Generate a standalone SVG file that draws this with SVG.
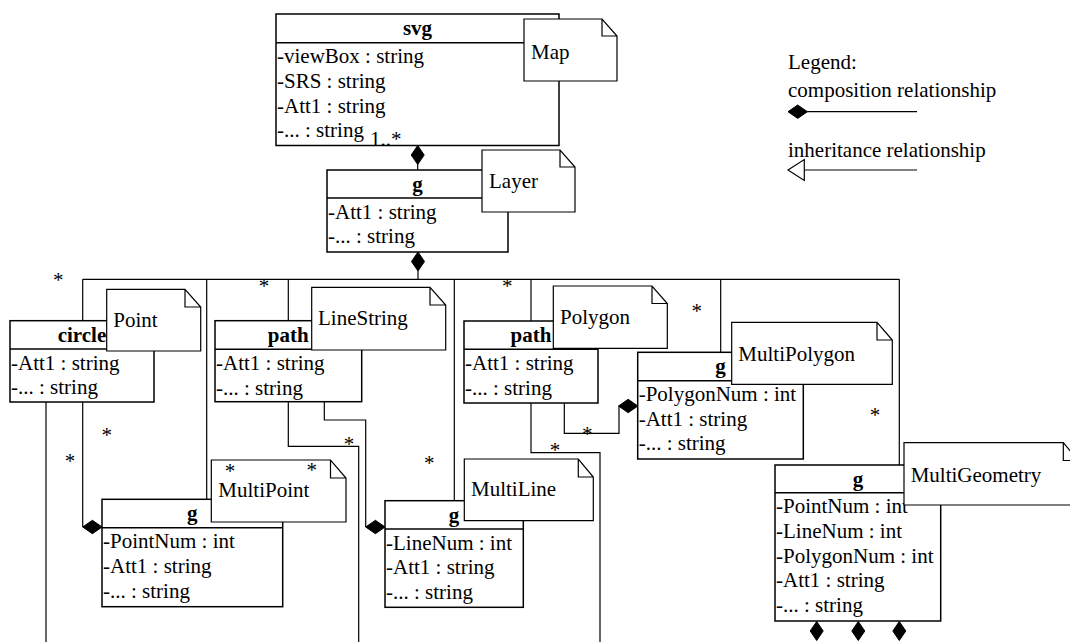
<svg xmlns="http://www.w3.org/2000/svg" width="1070" height="642" viewBox="0 0 1070 642">
<defs>
<style>
.box{fill:#fff;stroke:#000;stroke-width:1.5}
.note{fill:#fff;stroke:#000;stroke-width:1.2}
.ln{fill:none;stroke:#000;stroke-width:1.2}
.dm{fill:#000;stroke:#000;stroke-width:1}
text{font-family:"Liberation Serif","Times New Roman",serif;font-size:21px;fill:#000}
.ttl{font-weight:bold;text-anchor:middle}
.st{text-anchor:middle}
</style>
<path id="dv" d="M0,0 L6.5,9.5 L0,19 L-6.5,9.5 Z"/>
<path id="dh" d="M0,0 L9.7,-6.7 L19.4,0 L9.7,6.7 Z"/>
</defs>
<rect width="1070" height="642" fill="#fff"/>

<g id="connectors" class="ln">
<path d="M417.7,164 V170"/>
<path d="M418,271 V279.3"/>
<path d="M82.7,279.3 H899.3"/>
<path d="M82.7,279.3 V320.7"/>
<path d="M206.7,279.3 V499.3"/>
<path d="M288.3,279.3 V320.7"/>
<path d="M454.3,279.3 V500.7"/>
<path d="M531,279.3 V321"/>
<path d="M720.7,279.3 V352.3"/>
<path d="M899.3,279.3 V465"/>
<path d="M46,402 V642"/>
<path d="M82.7,402 V527"/>
<path d="M288.3,402 V446.3 H358.7 V642"/>
<path d="M324.3,402 V420 H365.7 V527"/>
<path d="M531,403 V452.7 H600 V642"/>
<path d="M564.3,403 V433.3 H619 V406"/>
<use href="#dv" class="dm" x="417.7" y="145.5"/>
<use href="#dv" class="dm" x="418" y="252"/>
<use href="#dh" class="dm" x="82.7" y="527"/>
<use href="#dh" class="dm" x="365.7" y="527"/>
<use href="#dh" class="dm" x="618.5" y="406"/>
<use href="#dv" class="dm" x="816.7" y="621.5"/>
<use href="#dv" class="dm" x="858.3" y="621.5"/>
<use href="#dv" class="dm" x="899.3" y="621.5"/>
</g>

<g id="node-svg">
<rect class="box" x="276" y="14" width="283" height="131.5"/>
<line class="box" x1="276" y1="42.7" x2="559" y2="42.7"/>
<text class="ttl" x="417.5" y="34.5">svg</text>
<text x="277" y="63.3">-viewBox : string</text>
<text x="277" y="88">-SRS : string</text>
<text x="277" y="112.7">-Att1 : string</text>
<text x="277" y="137.4">-... : string</text>
<path class="note" d="M524,19 H602 L617,36 V81 H524 Z M602,19 V36 H617"/>
<text x="531" y="59">Map</text>
</g>

<g id="node-layer">
<rect class="box" x="327" y="170" width="181" height="82"/>
<line class="box" x1="327" y1="198" x2="508" y2="198"/>
<text class="ttl" x="417.5" y="190.5">g</text>
<text x="328" y="218.5">-Att1 : string</text>
<text x="328" y="243.2">-... : string</text>
<path class="note" d="M482,150 H560 L575,167 V212 H482 Z M560,150 V167 H575"/>
<text x="489" y="187.5">Layer</text>
</g>

<g id="node-point">
<rect class="box" x="10" y="320.7" width="144" height="81.3"/>
<line class="box" x1="10" y1="349" x2="154" y2="349"/>
<text class="ttl" x="82" y="341.5">circle</text>
<text x="11" y="369.5">-Att1 : string</text>
<text x="11" y="394.2">-... : string</text>
<path class="note" d="M106.7,289.3 H185 L200.7,307 V351 H106.7 Z M185,289.3 V307 H200.7"/>
<text x="113.3" y="327">Point</text>
</g>

<g id="node-linestring">
<rect class="box" x="215" y="320.7" width="146.7" height="81"/>
<line class="box" x1="215" y1="349.3" x2="361.7" y2="349.3"/>
<text class="ttl" x="288.3" y="342">path</text>
<text x="216" y="370">-Att1 : string</text>
<text x="216" y="394.7">-... : string</text>
<path class="note" d="M311.7,287.3 H430 L445.7,305 V350 H311.7 Z M430,287.3 V305 H445.7"/>
<text x="318" y="325">LineString</text>
</g>

<g id="node-polygon">
<rect class="box" x="464" y="321" width="134" height="82"/>
<line class="box" x1="464" y1="349.3" x2="598" y2="349.3"/>
<text class="ttl" x="531" y="342">path</text>
<text x="465" y="370">-Att1 : string</text>
<text x="465" y="394.7">-... : string</text>
<path class="note" d="M553.3,286 H652 L667.3,303.5 V348.3 H553.3 Z M652,286 V303.5 H667.3"/>
<text x="560" y="324">Polygon</text>
</g>

<g id="node-multipolygon">
<rect class="box" x="637.7" y="352.3" width="165.6" height="106.7"/>
<line class="box" x1="637.7" y1="380.7" x2="803.3" y2="380.7"/>
<text class="ttl" x="720.5" y="373">g</text>
<text x="638.7" y="401">-PolygonNum : int</text>
<text x="638.7" y="425.7">-Att1 : string</text>
<text x="638.7" y="450.4">-... : string</text>
<path class="note" d="M731.7,322.3 H877 L892.3,340 V384.3 H731.7 Z M877,322.3 V340 H892.3"/>
<text x="738.3" y="360.5">MultiPolygon</text>
</g>

<g id="node-multipoint">
<rect class="box" x="102" y="499.3" width="180.7" height="107.4"/>
<line class="box" x1="102" y1="527.7" x2="282.7" y2="527.7"/>
<text class="ttl" x="192.3" y="520">g</text>
<text x="103" y="548.3">-PointNum : int</text>
<text x="103" y="573">-Att1 : string</text>
<text x="103" y="597.7">-... : string</text>
<path class="note" d="M211.3,460 H330.5 L346,478 V522 H211.3 Z M330.5,460 V478 H346"/>
<text x="218.3" y="497">MultiPoint</text>
</g>

<g id="node-multiline">
<rect class="box" x="385" y="500.7" width="138.3" height="106.6"/>
<line class="box" x1="385" y1="529" x2="523.3" y2="529"/>
<text class="ttl" x="454" y="521.5">g</text>
<text x="386" y="549.5">-LineNum : int</text>
<text x="386" y="574.2">-Att1 : string</text>
<text x="386" y="598.9">-... : string</text>
<path class="note" d="M464.3,459 H578.3 L593.3,477 V520.7 H464.3 Z M578.3,459 V477 H593.3"/>
<text x="471" y="496">MultiLine</text>
</g>

<g id="node-multigeometry">
<rect class="box" x="775" y="465" width="165.7" height="156"/>
<line class="box" x1="775" y1="492.7" x2="940.7" y2="492.7"/>
<text class="ttl" x="857.9" y="485.5">g</text>
<text x="776" y="513.3">-PointNum : int</text>
<text x="776" y="538">-LineNum : int</text>
<text x="776" y="562.7">-PolygonNum : int</text>
<text x="776" y="587.4">-Att1 : string</text>
<text x="776" y="612.1">-... : string</text>
<path class="note" d="M904,442.7 H1063.3 L1078.3,460.5 V505 H904 Z M1063.3,442.7 V460.5 H1078.3"/>
<text x="910.7" y="481.7">MultiGeometry</text>
</g>

<g id="labels">
<text x="370" y="146">1..*</text>
<text class="st" x="58.3" y="287">*</text>
<text class="st" x="264" y="293">*</text>
<text class="st" x="507.3" y="293.3">*</text>
<text class="st" x="696.7" y="318.3">*</text>
<text class="st" x="875" y="422.3">*</text>
<text class="st" x="106.7" y="441.7">*</text>
<text class="st" x="70" y="468.3">*</text>
<text class="st" x="230" y="478.3">*</text>
<text class="st" x="311.7" y="476.7">*</text>
<text class="st" x="349" y="450.7">*</text>
<text class="st" x="429.3" y="470">*</text>
<text class="st" x="555" y="456.7">*</text>
<text class="st" x="587.3" y="440.7">*</text>
</g>

<g id="legend">
<text x="788" y="69">Legend:</text>
<text x="788" y="97">composition relationship</text>
<use href="#dh" class="dm" x="788" y="111.7"/>
<line class="ln" x1="807" y1="111.7" x2="917" y2="111.7"/>
<text x="788" y="157">inheritance relationship</text>
<path d="M788,170 L804.3,159.5 V180.5 Z" fill="#fff" stroke="#000" stroke-width="1.2"/>
<line class="ln" x1="804.3" y1="170" x2="917" y2="170"/>
</g>
</svg>
